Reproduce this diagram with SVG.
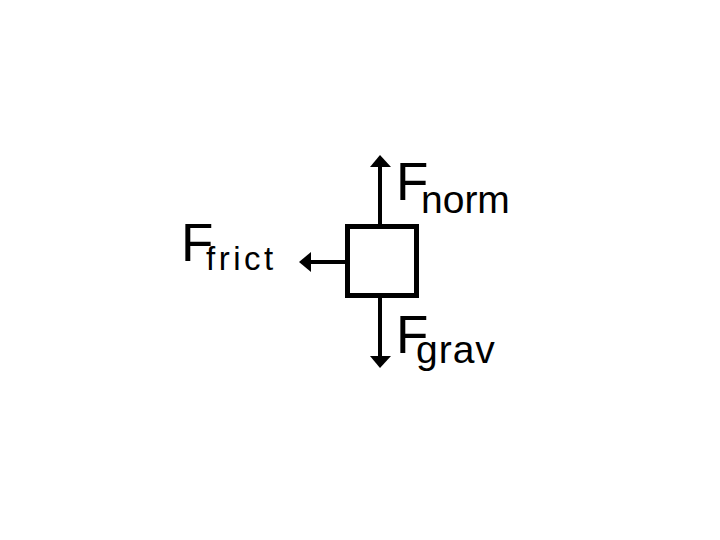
<svg xmlns="http://www.w3.org/2000/svg" width="720" height="540" viewBox="0 0 720 540">
<style>
.big{font-family:"Liberation Sans",Arial,sans-serif;font-size:53px;fill:#000}
.sub{font-size:39px}
.ln{stroke:#000;stroke-width:4;fill:none}
</style>
<rect width="720" height="540" fill="#fff"/>
<g id="connectors">
<line class="ln" x1="380" y1="224" x2="380" y2="162"/>
<polygon points="380,155 370,167 391,167"/>
<line class="ln" x1="380" y1="298" x2="380" y2="360"/>
<polygon points="380,368 370,356 391,356"/>
<line class="ln" x1="345" y1="262" x2="306" y2="262"/>
<polygon points="299,262 311,252 311,272"/>
</g>
<g id="box"><rect x="347.5" y="226.5" width="69" height="69" fill="#fff" stroke="#000" stroke-width="5"/></g>
<g id="fnorm"><text class="big" x="396" y="200">F<tspan class="sub" x="421" y="213">norm</tspan></text></g>
<g id="fgrav"><text class="big" x="396" y="353">F<tspan class="sub" x="416" y="363" letter-spacing="1">grav</tspan></text></g>
<g id="ffrict"><text class="big" x="181" y="261">F<tspan class="sub" style="font-size:33px" x="206" y="270" letter-spacing="3.5">frict</tspan></text></g>
</svg>
